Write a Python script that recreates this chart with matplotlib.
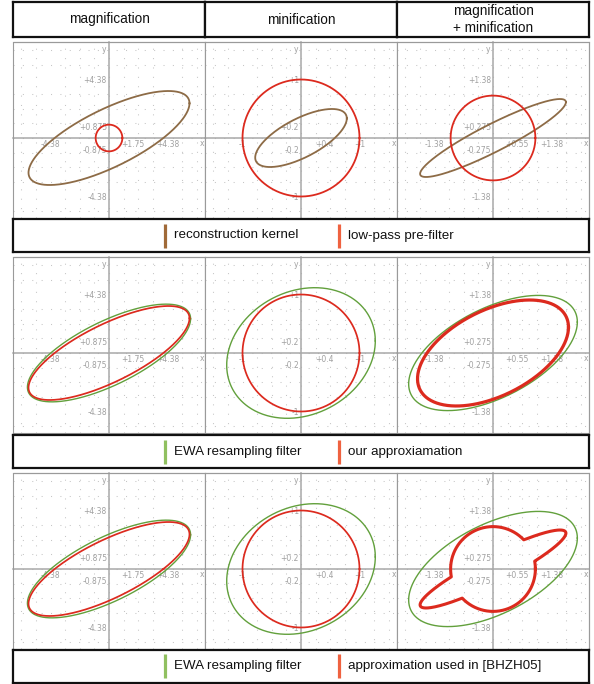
import numpy as np
import matplotlib
matplotlib.use("Agg")
import matplotlib.pyplot as plt
from matplotlib.patches import Rectangle

# ---- data ---------------------------------------------------------------
column_titles = ["magnification", "minification", "magnification\n+ minification"]
axis_scales = [4.38, 1.0, 1.38]
x_tick_labels = [["-4.38", "+1.75", "+4.38"],
                 ["-1", "+0.4", "+1"],
                 ["-1.38", "+0.55", "+1.38"]]
y_tick_labels = [["-4.38", "-0.875", "+0.875", "+4.38"],
                 ["-1", "-0.2", "+0.2", "+1"],
                 ["-1.38", "-0.275", "+0.275", "+1.38"]]

# covariance matrices (xx, xy, yy) of the screen-space reconstruction kernel
kernel_cov = [[36.32, 15.64, 12.38],
              [0.613, 0.262, 0.246],
              [2.958, 1.453, 0.846]]
# low-pass pre-filter: unit circle
prefilter_cov = [1.0, 0.0, 1.0]
# our approximation of the resampling filter
approx_cov = [[36.32, 15.64, 12.38],
              [1.0, 0.0, 1.0],
              [3.17, 1.08, 1.5625]]

legend_rows = [["reconstruction kernel", "low-pass pre-filter"],
               ["EWA resampling filter", "our approxiamation"],
               ["EWA resampling filter", "approximation used in [BHZH05]"]]

# ---- styling ------------------------------------------------------------
BROWN = "#8d6b46"
RED = "#dc2a1e"
GREEN = "#62a03c"
LEG_BROWN = "#a06a38"
LEG_RED = "#ef6240"
LEG_GREEN = "#90c060"
GRAY = "#9a9a9a"

W, H = 594, 684
fig = plt.figure(figsize=(W / 100, H / 100), dpi=100)

col_x = [(13, 205), (205, 397), (397, 589)]
panel_y = [(42, 218), (257, 433), (473, 649)]
legend_y = [(219, 252), (435, 468), (650, 683)]
header_y = (2, 37)
PX_PER_SCALE = 58.5
ORIGIN_FROM_TOP = 96


def rect(x0, y0, x1, y1):
    return [x0 / W, 1 - y1 / H, (x1 - x0) / W, (y1 - y0) / H]


def ellipse_pts(cov, n=400):
    sxx, sxy, syy = cov
    S = np.array([[sxx, sxy], [sxy, syy]])
    L = np.linalg.cholesky(S)
    t = np.linspace(0, 2 * np.pi, n)
    p = L @ np.vstack([np.cos(t), np.sin(t)])
    return p[0], p[1]


def union_pts(cov_a, cov_b, n=1440):
    t = np.linspace(0, 2 * np.pi, n)
    u = np.vstack([np.cos(t), np.sin(t)])
    radii = []
    for c in (cov_a, cov_b):
        S = np.array([[c[0], c[1]], [c[1], c[2]]])
        Q = np.linalg.inv(S)
        radii.append(1 / np.sqrt(np.einsum("in,ij,jn->n", u, Q, u)))
    r = np.maximum(radii[0], radii[1])
    return r * u[0], r * u[1]


def sum_cov(a, b):
    return [a[0] + b[0], a[1] + b[1], a[2] + b[2]]


def make_box(x0, y0, x1, y1, lw=1.6, color="#111111"):
    ax = fig.add_axes(rect(x0, y0, x1, y1))
    ax.set_xticks([])
    ax.set_yticks([])
    ax.set_xlim(0, 1)
    ax.set_ylim(0, 1)
    for sp in ax.spines.values():
        sp.set_linewidth(lw)
        sp.set_color(color)
    return ax


def make_panel(row, col):
    x0, x1 = col_x[col]
    y0, y1 = panel_y[row]
    s = axis_scales[col]
    ax = fig.add_axes(rect(x0, y0, x1, y1))
    half_w = (x1 - x0) / 2 / PX_PER_SCALE * s
    top = ORIGIN_FROM_TOP / PX_PER_SCALE * s
    bottom = -((y1 - y0) - ORIGIN_FROM_TOP) / PX_PER_SCALE * s

    for side in ("top", "right"):
        ax.spines[side].set_color(GRAY)
        ax.spines[side].set_linewidth(0.8)
    for side in ("left", "bottom"):
        ax.spines[side].set_position(("data", 0))
        ax.spines[side].set_color("#a8a8a8")
        ax.spines[side].set_linewidth(1.1)
    ax.add_patch(Rectangle((0, 0), 1, 1, transform=ax.transAxes, fill=False,
                           ec=GRAY, lw=0.8, clip_on=False, zorder=5))

    ax.set_xticks([-s, 0.4 * s, s], x_tick_labels[col])
    ax.set_yticks([-s, -0.2 * s, 0.2 * s, s], y_tick_labels[col])
    grid_steps = np.arange(-6, 7) * s / 4
    ax.set_xticks(grid_steps, minor=True)
    ax.set_yticks(grid_steps, minor=True)
    ax.set_xlim(-half_w, half_w)
    ax.set_ylim(bottom, top)
    ax.tick_params(which="both", length=0, labelsize=5.5, labelcolor="#a0a0a0", pad=1.5)
    for lab in ax.get_xticklabels() + ax.get_yticklabels():
        lab.set_family("DejaVu Sans")
    ax.grid(which="minor", color="#c6c6c6", lw=0.75, ls=(0, (1, 8)))
    ax.grid(which="major", visible=False)
    ax.set_axisbelow(True)

    ax.text(half_w * 0.965, -0.02 * s, "x", fontsize=5.5, color="#a0a0a0",
            ha="center", va="top")
    ax.text(-0.04 * s, top * 0.92, "y", fontsize=5.5, color="#a0a0a0",
            ha="right", va="center")
    return ax


# ---- column headers ------------------------------------------------------
for c, title in enumerate(column_titles):
    hx0, hx1 = col_x[c]
    hb = make_box(hx0, header_y[0], hx1, header_y[1])
    hb.text(0.5, 0.5, title, ha="center", va="center", fontsize=9.8,
            family="Liberation Sans", linespacing=1.2, color="#111111")

# ---- panels ---------------------------------------------------------------
for c in range(3):
    k = kernel_cov[c]
    ewa = sum_cov(k, prefilter_cov)

    # row 1: reconstruction kernel and low-pass pre-filter
    ax = make_panel(0, c)
    ax.plot(*ellipse_pts(k), color=BROWN, lw=1.3, zorder=3)
    ax.plot(*ellipse_pts(prefilter_cov), color=RED, lw=1.3, zorder=3)

    # row 2: EWA resampling filter and our approximation
    ax = make_panel(1, c)
    ax.plot(*ellipse_pts(ewa), color=GREEN, lw=1.0, zorder=3)
    ax.plot(*ellipse_pts(approx_cov[c]), color=RED,
            lw=2.3 if c == 2 else 1.25, zorder=4)

    # row 3: EWA resampling filter and the union approximation
    ax = make_panel(2, c)
    ax.plot(*ellipse_pts(ewa), color=GREEN, lw=1.0, zorder=3)
    ax.plot(*union_pts(k, prefilter_cov), color=RED,
            lw=2.2 if c == 2 else 1.25, zorder=4)

# ---- legends --------------------------------------------------------------
legend_colors = [[LEG_BROWN, LEG_RED], [LEG_GREEN, LEG_RED], [LEG_GREEN, LEG_RED]]
bar_x = [165, 339]
for r in range(3):
    ly0, ly1 = legend_y[r]
    lb = make_box(13, ly0, 589, ly1)
    lb.set_xlim(13, 589)
    lb.set_ylim(ly1, ly0)
    for i in range(2):
        lb.plot([bar_x[i], bar_x[i]], [ly0 + 4.5, ly1 - 4.5],
                color=legend_colors[r][i], lw=2.3, solid_capstyle="butt")
        lb.text(bar_x[i] + 9, (ly0 + ly1) / 2, legend_rows[r][i],
                ha="left", va="center", fontsize=9.6,
                family="Liberation Sans", color="#111111")

fig.savefig("out.png", dpi=100)
